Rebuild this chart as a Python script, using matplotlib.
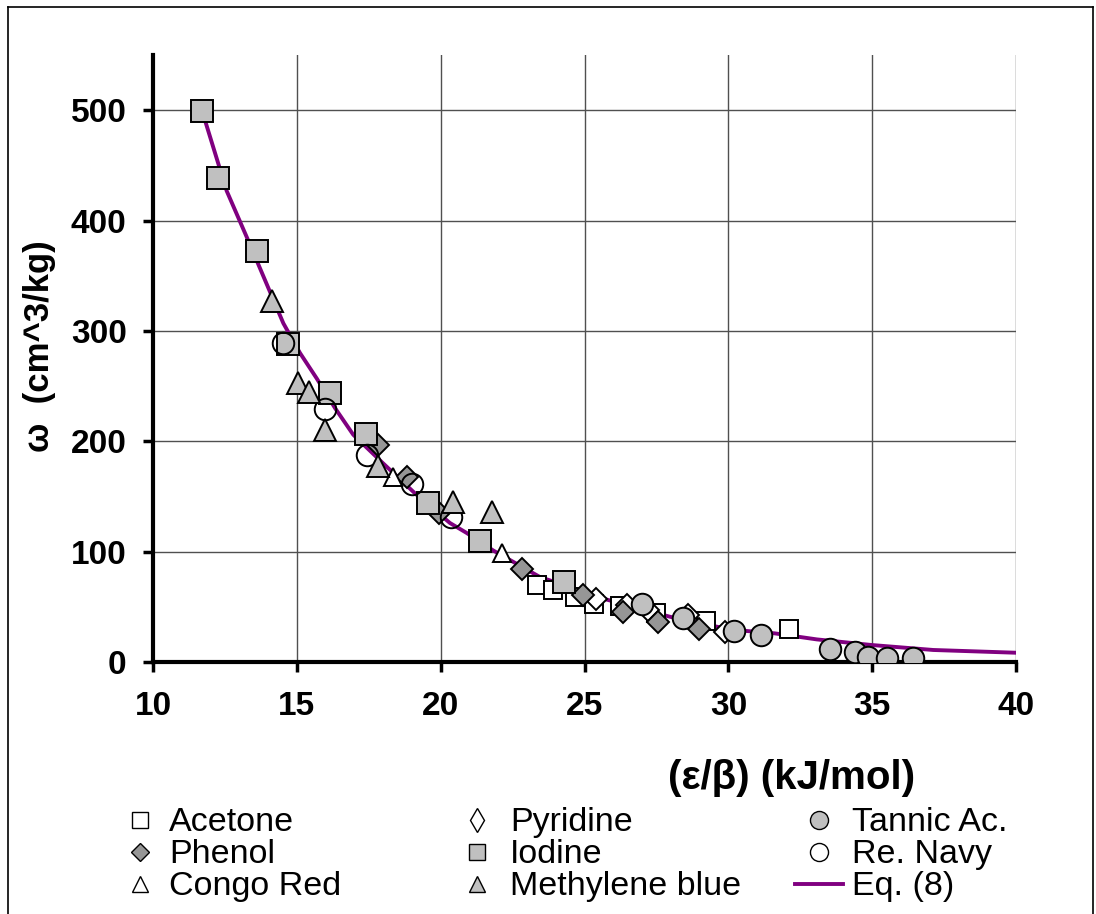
import matplotlib
matplotlib.use("Agg")
import matplotlib.pyplot as plt
from matplotlib.lines import Line2D

plt.rcParams['font.family'] = ['Liberation Sans', 'DejaVu Sans']

# ---- data ----
acetone_x = [23.34, 23.89, 24.67, 25.33, 26.23, 27.5, 29.22, 32.12]
acetone_y = [69.7, 65.2, 58.6, 53.0, 50.7, 44.0, 37.4, 29.6]

pyridine_x = [25.39, 26.46, 27.2, 28.61, 29.88]
pyridine_y = [57.0, 51.6, 47.0, 42.6, 27.5]

tannic_x = [26.99, 28.41, 30.2, 31.13, 33.53, 34.4, 34.86, 35.52, 36.4]
tannic_y = [52.5, 39.5, 28.1, 24.5, 11.8, 8.8, 4.8, 3.9, 3.9]

phenol_x = [17.83, 18.82, 19.95, 22.84, 24.96, 26.35, 27.56, 28.98]
phenol_y = [196.5, 168.0, 134.7, 84.2, 60.7, 45.6, 36.0, 29.9]

iodine_x = [11.71, 12.27, 13.63, 14.68, 16.15, 17.4, 19.57, 21.37, 24.29]
iodine_y = [499.4, 438.7, 372.6, 288.6, 244.0, 207.0, 143.7, 109.5, 72.7]

navy_x = [14.53, 15.98, 17.45, 19.01, 20.36]
navy_y = [289.0, 229.0, 187.5, 161.0, 131.6]

congo_x = [18.35, 22.12]
congo_y = [167.6, 98.4]

methylene_x = [14.13, 15.05, 15.43, 15.98, 17.83, 20.42, 21.79]
methylene_y = [327.0, 253.0, 245.0, 210.0, 178.0, 145.0, 136.0]

eq_x = [11.7, 12.56, 13.26, 14.53, 15.11, 15.69, 16.33, 16.96, 18.0, 19.1,
        20.32, 20.9, 21.83, 23.45, 25.78, 27.97, 29.71, 30.64, 31.6, 33.07,
        34.98, 37.12, 40.0]
eq_y = [500, 427, 385, 307, 280, 257, 230, 206, 180, 153,
        126, 117, 101, 77, 56.5, 41, 31.4, 28.1, 26, 20.5,
        15.4, 10.9, 8.4]

x_ticks = [10, 15, 20, 25, 30, 35, 40]
y_ticks = [0, 100, 200, 300, 400, 500]

legend_labels = [['Acetone', 'Phenol', 'Congo Red'],
                 ['Pyridine', 'Iodine', 'Methylene blue'],
                 ['Tannic Ac.', 'Re. Navy', 'Eq. (8)']]

# ---- figure ----
W, H = 1096, 914
fig = plt.figure(figsize=(W / 100, H / 100), dpi=100)
ax = fig.add_axes([0.1396, 0.2757, 0.7875, 0.664])

ax.set_xlim(10, 40)
ax.set_ylim(0, 550)
ax.set_xticks(x_ticks)
ax.set_yticks(y_ticks)
ax.grid(True, color='#505050', linewidth=1.0)
ax.set_axisbelow(True)

for s in ['top', 'right']:
    ax.spines[s].set_visible(False)
for s in ['left', 'bottom']:
    ax.spines[s].set_linewidth(3)
    ax.spines[s].set_color('black')

ax.tick_params(direction='out', length=7, width=2.5, labelsize=24)
ax.tick_params(axis='x', pad=14)
ax.tick_params(axis='y', pad=12)
for lab in ax.get_xticklabels() + ax.get_yticklabels():
    lab.set_fontweight('bold')

grey = '#C0C0C0'
dark = '#969696'
purple = '#800080'
ew = 1.4
ms_big = 15.5
ms_small = 13

ax.plot(eq_x, eq_y, color=purple, lw=2.8, zorder=2)

ax.plot(acetone_x, acetone_y, 's', ms=ms_small, mfc='white', mec='black', mew=ew, zorder=3)
ax.plot(pyridine_x, pyridine_y, 'D', ms=11, mfc='white', mec='black', mew=ew, zorder=3)
ax.plot(tannic_x, tannic_y, 'o', ms=ms_big, mfc=grey, mec='black', mew=ew, zorder=3)
ax.plot(phenol_x, phenol_y, 'D', ms=11, mfc=dark, mec='black', mew=ew, zorder=3)
ax.plot(iodine_x, iodine_y, 's', ms=ms_big, mfc=grey, mec='black', mew=ew, zorder=3)
ax.plot(navy_x, navy_y, 'o', ms=ms_big, mfc='none', mec='black', mew=ew, zorder=3)
ax.plot(congo_x, congo_y, '^', ms=ms_small, mfc='white', mec='black', mew=ew, zorder=3)
ax.plot(methylene_x, methylene_y, '^', ms=16.5, mfc=grey, mec='black', mew=ew, zorder=3)

ax.set_ylabel('ω  (cm^3/kg)', fontsize=25, fontweight='bold')
ax.yaxis.set_label_coords(-0.112, 0.52)
fig.text(792 / W, 1 - 778 / H, '(ε/β) (kJ/mol)', fontsize=29, fontweight='bold',
         ha='center', va='center')

# ---- legend (three columns, placed in figure pixels) ----
def mk(marker, fc, ms):
    return dict(ls='none', marker=marker, ms=ms, mfc=fc, mec='black', mew=1.0)

legend_styles = [[mk('s', 'white', 11), mk('D', dark, 9), mk('^', 'white', 11)],
                 [mk('d', 'white', 12), mk('s', grey, 12), mk('^', grey, 11)],
                 [mk('o', grey, 13), mk('o', 'white', 13), dict(color=purple, lw=2.8)]]
handle_x = [(116, 164), (453, 501), (795, 843)]
text_x = [169, 510, 852]
baselines = [831, 863, 895]

for c in range(3):
    for r in range(3):
        yb = baselines[r]
        ym = 1 - (yb - 11) / H
        x0, x1 = handle_x[c]
        st = legend_styles[c][r]
        if st.get('ls') == 'none':
            fig.add_artist(Line2D([(x0 + x1) / 2 / W], [ym], transform=fig.transFigure, **st))
        else:
            fig.add_artist(Line2D([x0 / W, x1 / W], [ym, ym], transform=fig.transFigure, **st))
        fig.text(text_x[c] / W, 1 - yb / H, legend_labels[c][r], fontsize=24.5,
                 ha='left', va='baseline')

# outer frame
fig.add_artist(Line2D([0.007, 0.007], [0.0, 0.992], color='black', lw=1.2, transform=fig.transFigure))
fig.add_artist(Line2D([0.007, 0.997], [0.992, 0.992], color='black', lw=1.2, transform=fig.transFigure))
fig.add_artist(Line2D([0.997, 0.997], [0.0, 0.992], color='black', lw=1.2, transform=fig.transFigure))

fig.savefig('out.png', dpi=100)
